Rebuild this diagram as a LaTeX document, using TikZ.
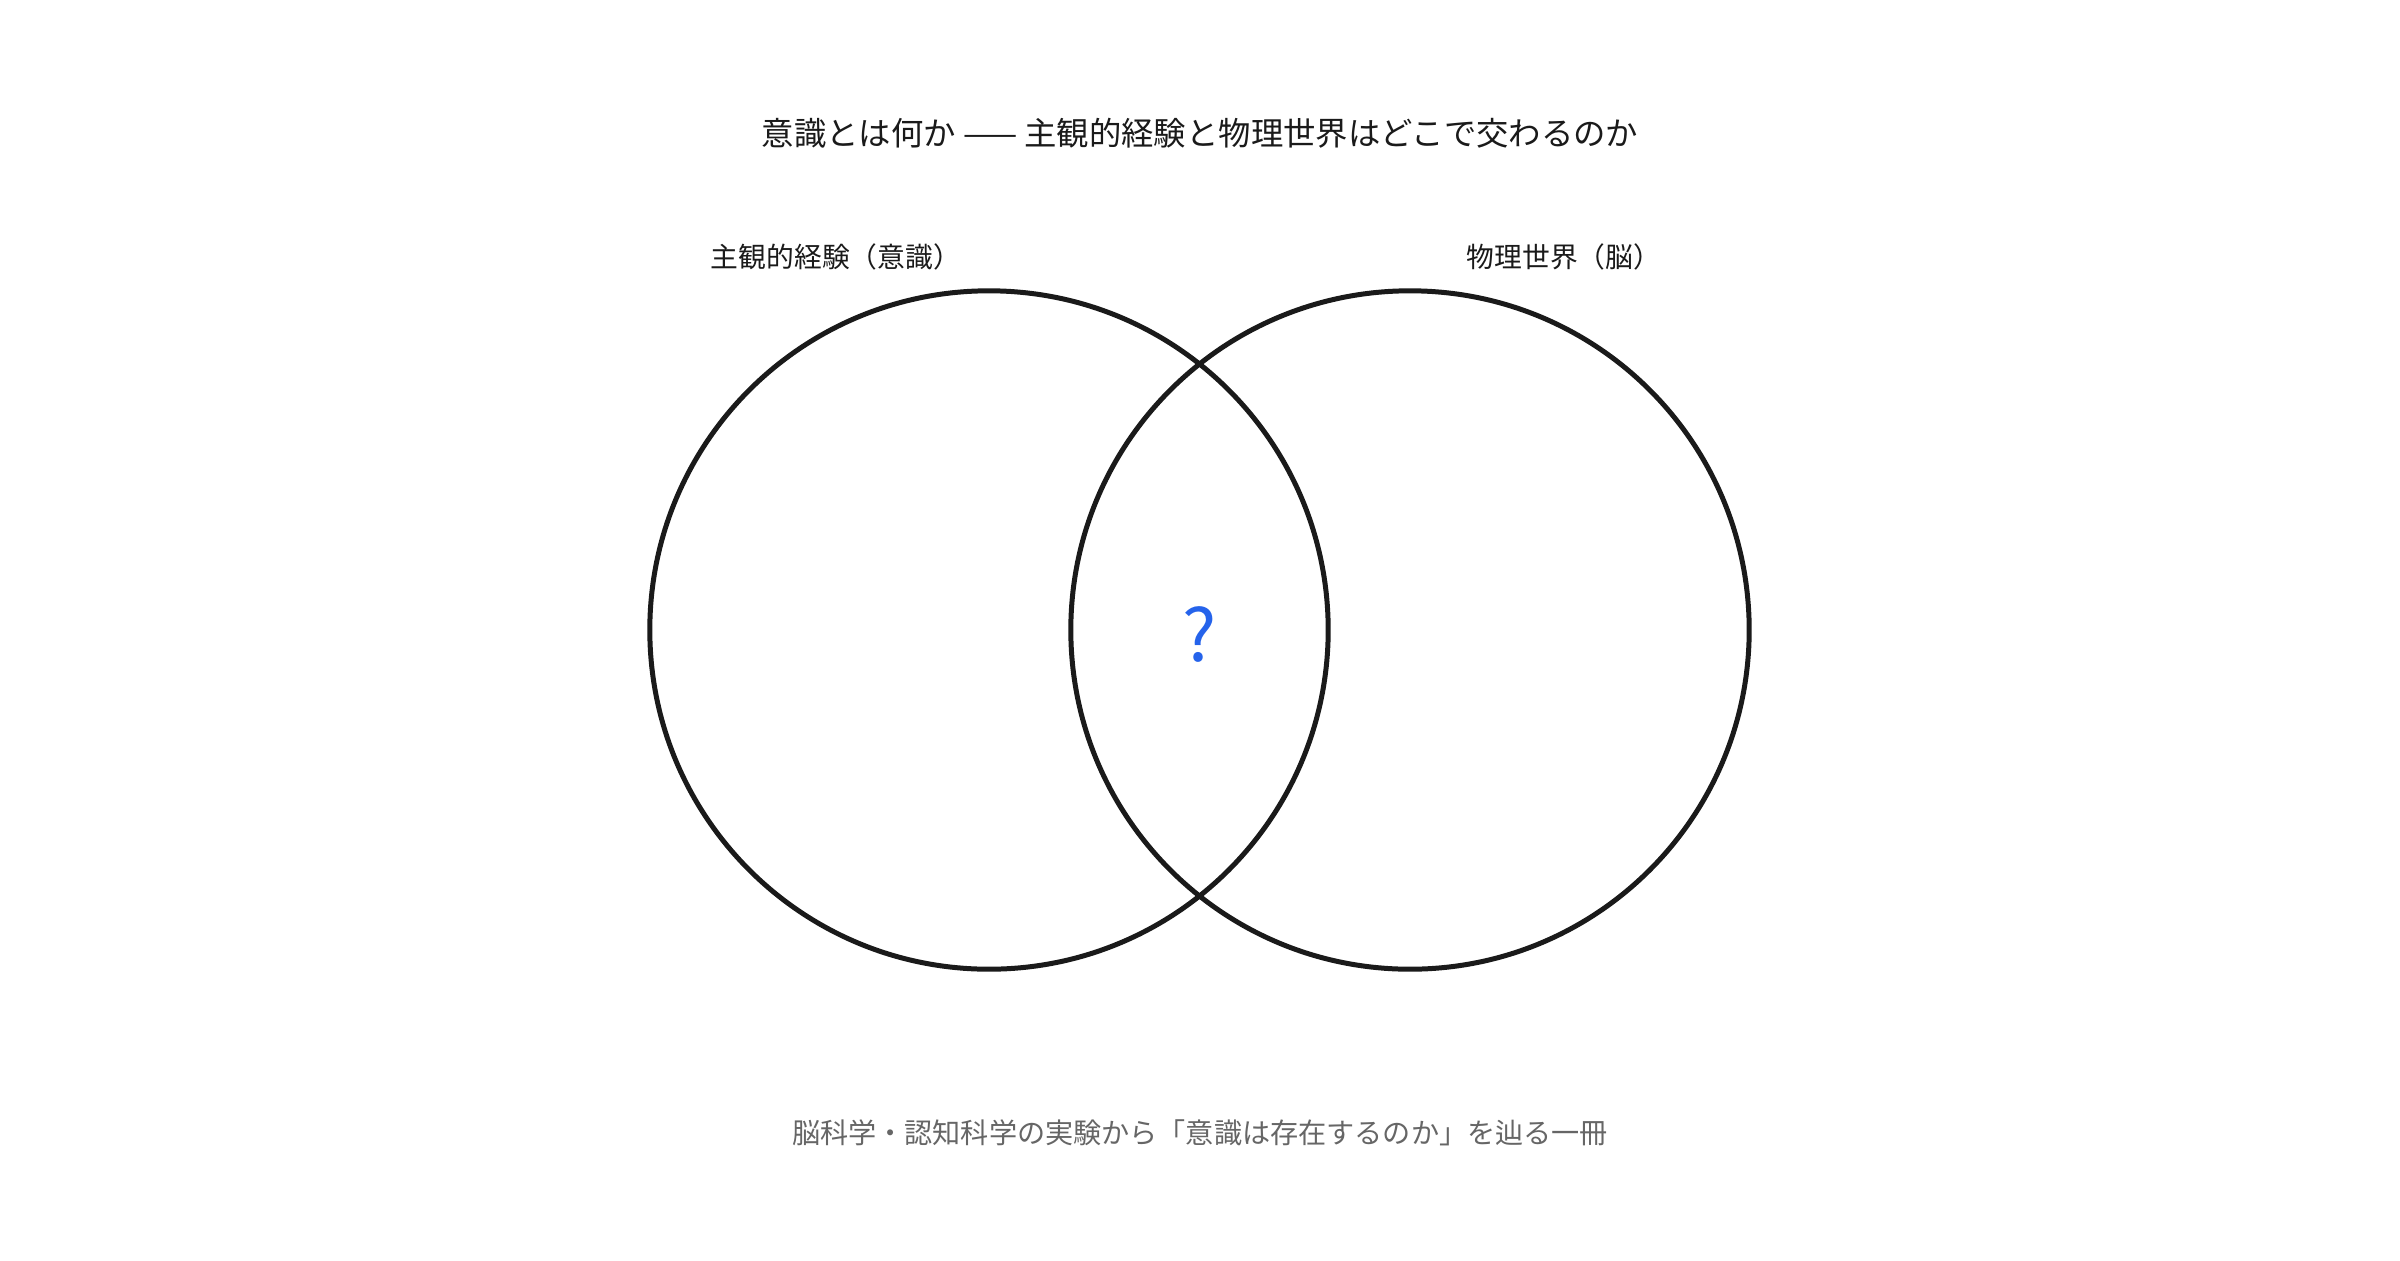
\documentclass[tikz,border=0pt]{standalone}
\usepackage{fontspec}
\newfontfamily\jp{Noto Sans CJK JP}
\definecolor{ink}{HTML}{1A1A1A}
\definecolor{muted}{HTML}{666666}
\definecolor{qblue}{HTML}{2563EB}
\begin{document}
\begin{tikzpicture}[x=0.01cm,y=-0.01cm,
  venn/.style={draw=ink,line width=1.42pt,circle,minimum size=6.78cm,inner sep=0pt},
  titletext/.style={font=\jp\fontsize{9.2pt}{11pt}\selectfont,text=ink,inner sep=0pt},
  settext/.style={font=\jp\fontsize{7.9pt}{9pt}\selectfont,text=ink,inner sep=0pt},
  foottext/.style={font=\jp\fontsize{8pt}{10pt}\selectfont,text=muted,inner sep=0pt},
  qmark/.style={font=\jp\fontsize{20.5pt}{24pt}\selectfont,text=qblue,inner sep=0pt}]
\useasboundingbox[fill=white] (0,0) rectangle (2400,1260);
\node[titletext] (title) at (1200,133) {意識とは何か —— 主観的経験と物理世界はどこで交わるのか};
\node[venn] (L) at (989,630) {};
\node[venn] (R) at (1410,630) {};
\node[settext] (lab1) at (836,257) {主観的経験（意識）};
\node[settext] (lab2) at (1564,257) {物理世界（脳）};
\node[qmark] (q) at (1200,634) {?};
\node[foottext] (foot) at (1200,1133) {脳科学・認知科学の実験から「意識は存在するのか」を辿る一冊};
\end{tikzpicture}
\end{document}
